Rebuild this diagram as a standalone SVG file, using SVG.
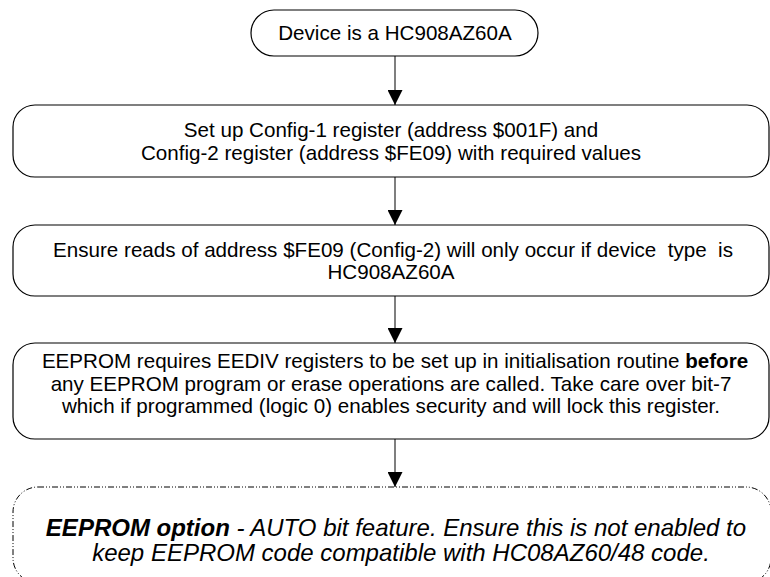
<svg xmlns="http://www.w3.org/2000/svg" width="770" height="577" viewBox="0 0 770 577">
<defs>
<style>
.box{fill:#fff;stroke:#000;stroke-width:1.2}
.dash{fill:#fff;stroke:#000;stroke-width:1;stroke-dasharray:6 2 1 2 1 2}
.t{font-family:"Liberation Sans",Arial,sans-serif;font-size:20.6px;fill:#000;text-anchor:middle}
.ti{font-family:"Liberation Sans",Arial,sans-serif;font-size:24px;font-style:italic;fill:#000;text-anchor:middle}
.conn{stroke:#555;stroke-width:1.5;fill:none}
</style>
<marker id="ah" markerWidth="15" markerHeight="15" refX="15" refY="7.5" orient="auto" markerUnits="userSpaceOnUse">
<path d="M0,0 L15,7.5 L0,15 Z" fill="#000"/>
</marker>
</defs>
<rect width="770" height="577" fill="#fff"/>
<g id="connectors">
<line class="conn" x1="395" y1="56" x2="395" y2="105" marker-end="url(#ah)"/>
<line class="conn" x1="395" y1="177" x2="395" y2="225" marker-end="url(#ah)"/>
<line class="conn" x1="395" y1="296" x2="395" y2="343" marker-end="url(#ah)"/>
<line class="conn" x1="395" y1="439" x2="395" y2="487" marker-end="url(#ah)"/>
</g>
<g id="n1">
<rect class="box" x="251" y="10" width="287" height="46" rx="23" ry="23"/>
<text class="t" x="395" y="40">Device is a HC908AZ60A</text>
</g>
<g id="n2">
<rect class="box" x="13" y="105" width="756" height="72" rx="22" ry="22"/>
<text class="t" x="391" y="137">Set up Config-1 register (address $001F) and</text>
<text class="t" x="391" y="159.5">Config-2 register (address $FE09) with required values</text>
</g>
<g id="n3">
<rect class="box" x="13" y="225" width="756" height="71" rx="22" ry="22"/>
<text class="t" x="393" y="256.5" xml:space="preserve">Ensure reads of address $FE09 (Config-2) will only occur if device  type  is</text>
<text class="t" x="391" y="279">HC908AZ60A</text>
</g>
<g id="n4">
<rect class="box" x="13" y="343" width="756" height="96" rx="22" ry="22"/>
<text class="t" x="395" y="368">EEPROM requires EEDIV registers to be set up in initialisation routine <tspan font-weight="bold">before</tspan></text>
<text class="t" x="391" y="390.5">any EEPROM program or erase operations are called. Take care over bit-7</text>
<text class="t" x="391" y="413">which if programmed (logic 0) enables security and will lock this register.</text>
</g>
<g id="n5">
<rect class="dash" x="13" y="487" width="758" height="96" rx="25" ry="25"/>
<text class="ti" x="396" y="536"><tspan font-weight="bold">EEPROM option</tspan> - AUTO bit feature. Ensure this is not enabled to</text>
<text class="ti" x="401" y="561">keep EEPROM code compatible with HC08AZ60/48 code.</text>
</g>
</svg>
